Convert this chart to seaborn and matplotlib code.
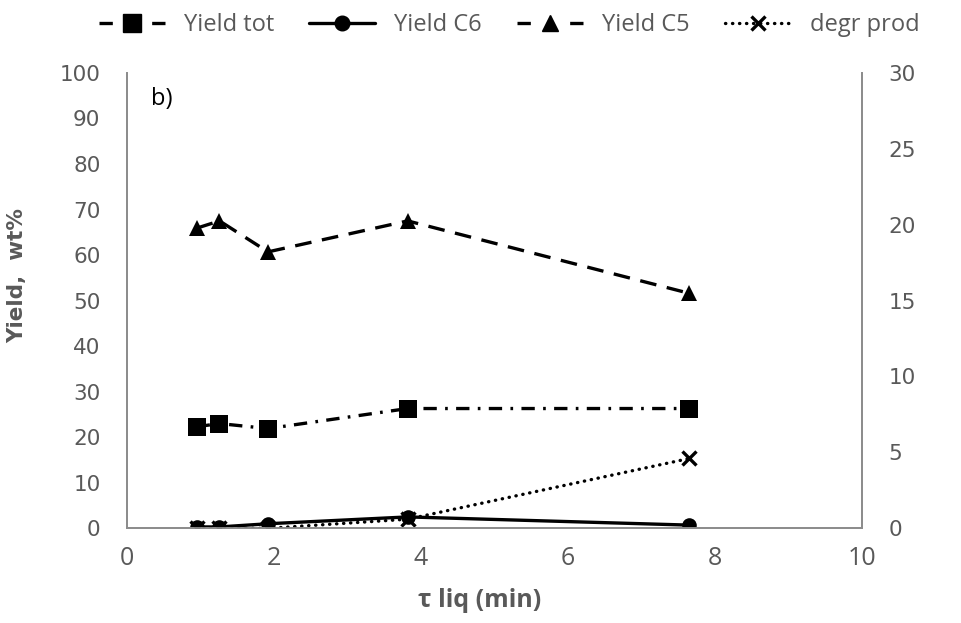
import pandas as pd
import matplotlib
matplotlib.use("Agg")
import matplotlib.pyplot as plt
import seaborn as sns
from matplotlib.lines import Line2D

# --- data ---
tau_liq = [0.95, 1.26, 1.92, 3.82, 7.65]
yield_tot = [22.3, 23.0, 21.9, 26.3, 26.3]
yield_c6 = [0.3, 0.3, 1.0, 2.5, 0.7]
yield_c5 = [65.9, 67.5, 60.7, 67.5, 51.6]
degr_prod = [0.0, 0.0, 0.0, 0.6, 4.6]   # right axis

sns.set_theme(style="white")
plt.rcParams["font.family"] = ["Open Sans", "DejaVu Sans"]

grey = "#595959"
fig = plt.figure(figsize=(9.61, 6.23), dpi=100)
ax = fig.add_axes([0.132, 0.152, 0.765, 0.731])
ax2 = ax.twinx()

lw = 2.4
dash_tot = (4, 2.5, 0.8, 2.5)
dash_c5 = (5, 3.2)
dot = (0.1, 2.0)
leg_dash = (4, 11.8)   # one short dash each side of the marker

sns.lineplot(x=tau_liq, y=yield_tot, ax=ax, color="black", lw=lw,
             marker="s", markersize=13, markeredgewidth=0)
ax.lines[-1].set_dashes(dash_tot)
sns.lineplot(x=tau_liq, y=yield_c6, ax=ax, color="black", lw=lw,
             marker="o", markersize=10.5, markeredgewidth=0)
sns.lineplot(x=tau_liq, y=yield_c5, ax=ax, color="black", lw=lw,
             marker="^", markersize=12, markeredgewidth=0)
ax.lines[-1].set_dashes(dash_c5)
sns.lineplot(x=tau_liq, y=degr_prod, ax=ax2, color="black", lw=lw,
             marker="x", markersize=10, markeredgewidth=2.4, markeredgecolor="black")
ax2.lines[-1].set_dashes(dot)
ax2.lines[-1].set_dash_capstyle("round")

ax.set_xlim(0, 10)
ax.set_ylim(0, 100)
ax2.set_ylim(0, 30)
ax.set_xticks(range(0, 11, 2))
ax.set_yticks(range(0, 101, 10))
ax2.set_yticks(range(0, 31, 5))
ax2.grid(False)
ax.grid(False)

for a in (ax, ax2):
    for s in a.spines.values():
        s.set_color("#8c8c8c")
        s.set_linewidth(1.3)
    a.spines["top"].set_visible(False)
    a.tick_params(length=0, colors=grey)
ax.tick_params(axis="x", labelsize=18, pad=13)
for a in (ax, ax2):
    a.tick_params(axis="y", pad=19)
    for lab in a.get_yticklabels():
        lab.set_fontfamily("DejaVu Sans")
        lab.set_fontsize(15.5)

ax.set_xlabel("τ liq (min)", fontsize=18, fontweight="bold", color=grey)
ax.xaxis.set_label_coords(0.48, -0.13)
ax.set_ylabel("Yield,  wt%", fontsize=15.5, fontweight="bold", color=grey,
              family="DejaVu Sans")
ax.yaxis.set_label_coords(-0.135, 0.556)
ax.text(0.033, 0.968, "b)", transform=ax.transAxes, fontsize=17, va="top", color="black")

handles = [
    Line2D([], [], color="black", lw=lw, marker="s", markersize=13, dashes=leg_dash),
    Line2D([], [], color="black", lw=lw, marker="o", markersize=10.5),
    Line2D([], [], color="black", lw=lw, marker="^", markersize=12, dashes=leg_dash),
    Line2D([], [], color="black", lw=lw, marker="x", markersize=10, markeredgewidth=2.4,
           dashes=dot, dash_capstyle="round"),
]
labels = ["Yield tot", "Yield C6", "Yield C5", "degr prod"]
fig.legend(handles, labels, loc="center", bbox_to_anchor=(0.53, 0.96), ncol=4,
           frameon=False, fontsize=17, handlelength=2.8, columnspacing=1.5,
           handletextpad=0.8, labelcolor=grey)

fig.savefig("out.png", dpi=100)
